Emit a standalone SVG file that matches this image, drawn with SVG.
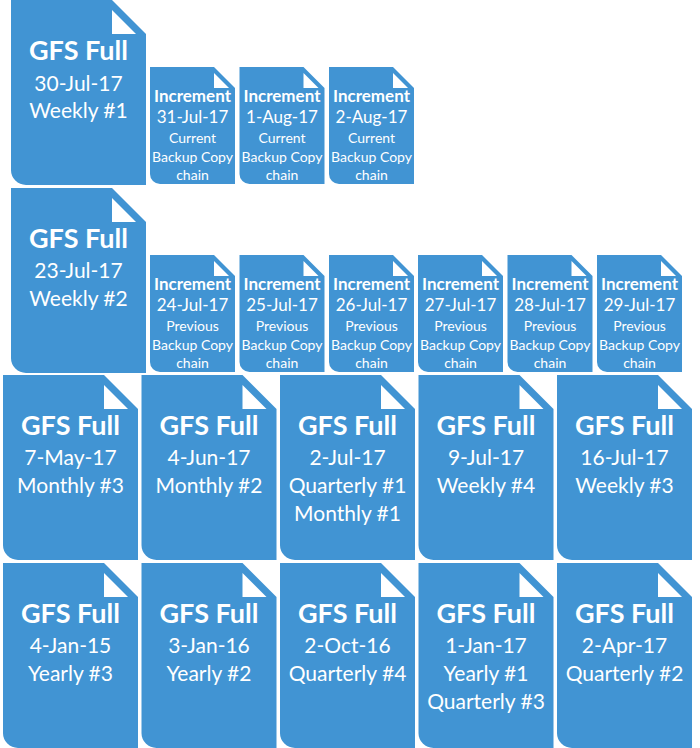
<svg xmlns="http://www.w3.org/2000/svg" xmlns:xlink="http://www.w3.org/1999/xlink" width="700" height="748" viewBox="0 0 700 748">
<style>
.doc{fill:#4194D3}
.fold{fill:#ffffff}
text{fill:#ffffff;text-anchor:middle;font-family:Lato,"Open Sans","Liberation Sans",sans-serif}
.t1{font-size:27px;font-weight:bold}
.t2{font-size:21px}
.s1{font-size:17px;font-weight:bold}
.s2{font-size:17px}
.s3{font-size:14px}
</style>
<defs>
<g id="big">
<path class="doc" d="M0,0 H101 L135,34 V185 H15 A15,15 0 0 1 0,170 Z"/>
<path class="fold" d="M101,10 V34 H125 Z"/>
</g>
<g id="small">
<path class="doc" d="M0,0 H64 L85,21 V117 H10 A10,10 0 0 1 0,107 Z"/>
<path class="fold" d="M64,6 V21 H79 Z"/>
</g>
</defs>
<g id="connectors"/>
<g id="full-30jul" transform="translate(11,0)"><use xlink:href="#big"/><text class="t1" x="67.5" y="60">GFS Full</text><text class="t2" x="67.5" y="91">30-Jul-17</text><text class="t2" x="67.5" y="118">Weekly #1</text></g>
<g id="inc-31jul" transform="translate(150,67)"><use xlink:href="#small"/><text class="s1" x="42.5" y="35">Increment</text><text class="s2" x="42.5" y="56">31-Jul-17</text><text class="s3" x="42.5" y="76">Current</text><text class="s3" x="42.5" y="95">Backup Copy</text><text class="s3" x="42.5" y="113">chain</text></g>
<g id="inc-1aug" transform="translate(239.5,67)"><use xlink:href="#small"/><text class="s1" x="42.5" y="35">Increment</text><text class="s2" x="42.5" y="56">1-Aug-17</text><text class="s3" x="42.5" y="76">Current</text><text class="s3" x="42.5" y="95">Backup Copy</text><text class="s3" x="42.5" y="113">chain</text></g>
<g id="inc-2aug" transform="translate(329,67)"><use xlink:href="#small"/><text class="s1" x="42.5" y="35">Increment</text><text class="s2" x="42.5" y="56">2-Aug-17</text><text class="s3" x="42.5" y="76">Current</text><text class="s3" x="42.5" y="95">Backup Copy</text><text class="s3" x="42.5" y="113">chain</text></g>
<g id="full-23jul" transform="translate(11,188)"><use xlink:href="#big"/><text class="t1" x="67.5" y="60">GFS Full</text><text class="t2" x="67.5" y="90">23-Jul-17</text><text class="t2" x="67.5" y="118">Weekly #2</text></g>
<g id="inc-24jul" transform="translate(150,255)"><use xlink:href="#small"/><text class="s1" x="42.5" y="35">Increment</text><text class="s2" x="42.5" y="56">24-Jul-17</text><text class="s3" x="42.5" y="76">Previous</text><text class="s3" x="42.5" y="95">Backup Copy</text><text class="s3" x="42.5" y="113">chain</text></g>
<g id="inc-25jul" transform="translate(239.5,255)"><use xlink:href="#small"/><text class="s1" x="42.5" y="35">Increment</text><text class="s2" x="42.5" y="56">25-Jul-17</text><text class="s3" x="42.5" y="76">Previous</text><text class="s3" x="42.5" y="95">Backup Copy</text><text class="s3" x="42.5" y="113">chain</text></g>
<g id="inc-26jul" transform="translate(329,255)"><use xlink:href="#small"/><text class="s1" x="42.5" y="35">Increment</text><text class="s2" x="42.5" y="56">26-Jul-17</text><text class="s3" x="42.5" y="76">Previous</text><text class="s3" x="42.5" y="95">Backup Copy</text><text class="s3" x="42.5" y="113">chain</text></g>
<g id="inc-27jul" transform="translate(418,255)"><use xlink:href="#small"/><text class="s1" x="42.5" y="35">Increment</text><text class="s2" x="42.5" y="56">27-Jul-17</text><text class="s3" x="42.5" y="76">Previous</text><text class="s3" x="42.5" y="95">Backup Copy</text><text class="s3" x="42.5" y="113">chain</text></g>
<g id="inc-28jul" transform="translate(507.5,255)"><use xlink:href="#small"/><text class="s1" x="42.5" y="35">Increment</text><text class="s2" x="42.5" y="56">28-Jul-17</text><text class="s3" x="42.5" y="76">Previous</text><text class="s3" x="42.5" y="95">Backup Copy</text><text class="s3" x="42.5" y="113">chain</text></g>
<g id="inc-29jul" transform="translate(597,255)"><use xlink:href="#small"/><text class="s1" x="42.5" y="35">Increment</text><text class="s2" x="42.5" y="56">29-Jul-17</text><text class="s3" x="42.5" y="76">Previous</text><text class="s3" x="42.5" y="95">Backup Copy</text><text class="s3" x="42.5" y="113">chain</text></g>
<g id="full-7may" transform="translate(3,375)"><use xlink:href="#big"/><text class="t1" x="67.5" y="60">GFS Full</text><text class="t2" x="67.5" y="90">7-May-17</text><text class="t2" x="67.5" y="118">Monthly #3</text></g>
<g id="full-4jun" transform="translate(141.5,375)"><use xlink:href="#big"/><text class="t1" x="67.5" y="60">GFS Full</text><text class="t2" x="67.5" y="90">4-Jun-17</text><text class="t2" x="67.5" y="118">Monthly #2</text></g>
<g id="full-2jul" transform="translate(280,375)"><use xlink:href="#big"/><text class="t1" x="67.5" y="60">GFS Full</text><text class="t2" x="67.5" y="90">2-Jul-17</text><text class="t2" x="67.5" y="118">Quarterly #1</text><text class="t2" x="67.5" y="146">Monthly #1</text></g>
<g id="full-9jul" transform="translate(418.5,375)"><use xlink:href="#big"/><text class="t1" x="67.5" y="60">GFS Full</text><text class="t2" x="67.5" y="90">9-Jul-17</text><text class="t2" x="67.5" y="118">Weekly #4</text></g>
<g id="full-16jul" transform="translate(557,375)"><use xlink:href="#big"/><text class="t1" x="67.5" y="60">GFS Full</text><text class="t2" x="67.5" y="90">16-Jul-17</text><text class="t2" x="67.5" y="118">Weekly #3</text></g>
<g id="full-4jan15" transform="translate(3,563)"><use xlink:href="#big"/><text class="t1" x="67.5" y="60">GFS Full</text><text class="t2" x="67.5" y="90">4-Jan-15</text><text class="t2" x="67.5" y="118">Yearly #3</text></g>
<g id="full-3jan16" transform="translate(141.5,563)"><use xlink:href="#big"/><text class="t1" x="67.5" y="60">GFS Full</text><text class="t2" x="67.5" y="90">3-Jan-16</text><text class="t2" x="67.5" y="118">Yearly #2</text></g>
<g id="full-2oct16" transform="translate(280,563)"><use xlink:href="#big"/><text class="t1" x="67.5" y="60">GFS Full</text><text class="t2" x="67.5" y="90">2-Oct-16</text><text class="t2" x="67.5" y="118">Quarterly #4</text></g>
<g id="full-1jan17" transform="translate(418.5,563)"><use xlink:href="#big"/><text class="t1" x="67.5" y="60">GFS Full</text><text class="t2" x="67.5" y="90">1-Jan-17</text><text class="t2" x="67.5" y="118">Yearly #1</text><text class="t2" x="67.5" y="146">Quarterly #3</text></g>
<g id="full-2apr17" transform="translate(557,563)"><use xlink:href="#big"/><text class="t1" x="67.5" y="60">GFS Full</text><text class="t2" x="67.5" y="90">2-Apr-17</text><text class="t2" x="67.5" y="118">Quarterly #2</text></g>
</svg>
